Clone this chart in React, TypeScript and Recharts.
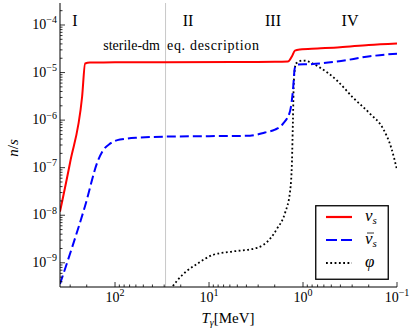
import React from "react";
import { LineChart, Line, XAxis, YAxis, ReferenceLine, Legend, Customized } from "recharts";

const FONT = "'Liberation Serif', 'DejaVu Serif', serif";
const txt = { fontFamily: FONT };

// T_gamma in MeV (left to right, i.e. decreasing), n/s values
const nuT = [385, 301, 224, 208, 185, 100, 30, 5, 2, 1.45, 1.31, 1.22, 1.08, 0.7, 0.404, 0.2, 0.1];
const nuN = [1.19e-8, 1.27e-7, 3.1e-6, 1.55e-5, 1.63e-5, 1.64e-5, 1.65e-5, 1.67e-5, 1.68e-5, 1.7e-5, 2.2e-5, 2.9e-5, 3.05e-5, 3.2e-5, 3.4e-5, 3.8e-5, 4.1e-5];

const nuBarT = [385, 287, 208, 152, 134, 113, 88.5, 54.2, 29.4, 10, 3.66, 2.54, 1.99, 1.63, 1.37, 1.28, 1.22, 1.13, 0.843, 0.435, 0.194, 0.1];
const nuBarN = [3.6e-10, 2.07e-9, 1.58e-8, 1.4e-7, 2.3e-7, 3.2e-7, 3.9e-7, 4.3e-7, 4.5e-7, 4.6e-7, 4.7e-7, 5.5e-7, 6.3e-7, 8.4e-7, 1.58e-6, 4.2e-6, 1.27e-5, 1.48e-5, 1.5e-5, 1.7e-5, 2.2e-5, 2.5e-5];

const phiT = [27.3, 21.9, 17.1, 13.4, 9.06, 5.98, 3.08, 2.24, 1.89, 1.55, 1.37, 1.31, 1.28, 1.25, 1.19, 1.0, 0.659, 0.435, 0.294, 0.194, 0.14, 0.115, 0.1];
const phiN = [2.3e-10, 4.2e-10, 6.8e-10, 9.5e-10, 1.47e-9, 1.7e-9, 2.07e-9, 3.2e-9, 5.2e-9, 1.13e-8, 3.3e-8, 1.4e-7, 9.8e-7, 6.8e-6, 1.55e-5, 1.79e-5, 1.27e-5, 6.8e-6, 2.98e-6, 1.37e-6, 6.5e-7, 2.6e-7, 9e-8];

const xDomain = [0.1, 385];
const yDomain = [3.1e-10, 2.9e-4];
const xDecades = [0.1, 1, 10, 100];
const yDecades = [1e-10, 1e-9, 1e-8, 1e-7, 1e-6, 1e-5, 1e-4];
const regionLabels = ["I", "II", "III", "IV"];
const splitT = 29;

const toRows = (ts: number[], ns: number[]) => ts.map((T, i) => ({ T, n: ns[i] }));
const nuData = toRows(nuT, nuN);
const nuBarData = toRows(nuBarT, nuBarN);
const phiData = toRows(phiT, phiN);

// log ticks: decades plus 2..9 minors, kept inside the domain
const logTicks = (decades: number[], [lo, hi]: number[]) => {
  const out: number[] = [];
  decades.forEach((d) => {
    for (let m = 1; m <= 9; m++) {
      const v = m * d;
      if (v >= lo * 0.999 && v <= hi) out.push(v);
    }
  });
  return out;
};
const xTicks = logTicks(xDecades, xDomain);
const yTicks = logTicks(yDecades, yDomain);

const isMajor = (v: number) => Math.abs(Math.log10(v) - Math.round(Math.log10(v))) < 1e-6;
const expLabel = (v: number) => {
  const e = Math.round(Math.log10(v));
  return e < 0 ? "\u2212" + Math.abs(e) : String(e);
};
const tickLen = (v: number) => (isMajor(v) ? 5 : 2.5);

function BottomTick({ x, y, payload }: any) {
  const v = payload.value;
  return (
    <g>
      <line x1={x} x2={x} y1={y} y2={y - tickLen(v)} stroke="#000" strokeWidth={0.8} />
      {isMajor(v) && (
        <text x={x} y={y + 15} textAnchor="middle" style={txt} fontSize={14} fill="#000">
          10<tspan dy={-6} fontSize={10}>{expLabel(v)}</tspan>
        </text>
      )}
    </g>
  );
}

function TopTick({ x, y, payload }: any) {
  return <line x1={x} x2={x} y1={y} y2={y + tickLen(payload.value)} stroke="#000" strokeWidth={0.8} />;
}

function LeftTick({ x, y, payload }: any) {
  const v = payload.value;
  return (
    <g>
      <line x1={x} x2={x + tickLen(v)} y1={y} y2={y} stroke="#000" strokeWidth={0.8} />
      {isMajor(v) && (
        <text x={x - 3} y={y + 4} textAnchor="end" style={txt} fontSize={14} fill="#000">
          10<tspan dy={-5.5} fontSize={10}>{expLabel(v)}</tspan>
        </text>
      )}
    </g>
  );
}

function RightTick({ x, y, payload }: any) {
  return <line x1={x} x2={x - tickLen(payload.value)} y1={y} y2={y} stroke="#000" strokeWidth={0.8} />;
}

function Annotations() {
  const regionX = [75, 188, 273, 350];
  return (
    <g style={txt} fill="#000">
      {regionLabels.map((r, i) => (
        <text key={r} x={regionX[i]} y={26} textAnchor="middle" fontSize={16} style={txt}>
          {r}
        </text>
      ))}
      <text x={160} y={50} textAnchor="end" fontSize={14} style={txt}>
        sterile-dm
      </text>
      <text x={167} y={50} fontSize={14} textLength={92} lengthAdjust="spacing" style={txt}>
        eq. description
      </text>
      <text x={228} y={323} textAnchor="middle" fontSize={15} style={txt}>
        <tspan fontStyle="italic">T</tspan>
        <tspan dy={3} fontSize={10} fontStyle="italic">γ</tspan>
        <tspan dy={-3}>[MeV]</tspan>
      </text>
      <text x={13} y={148} textAnchor="middle" fontSize={15} transform="rotate(-90 13 148)" dy={5} style={txt}>
        <tspan fontStyle="italic">n</tspan>/<tspan fontStyle="italic">s</tspan>
      </text>
    </g>
  );
}

function LegendBox() {
  const rows = [
    { color: "#ff0000", dash: undefined, width: 2.2, name: "ν", bar: false },
    { color: "#0000ff", dash: "11 4", width: 2.2, name: "ν", bar: true },
    { color: "#000", dash: "1.8 2.5", width: 1.8, name: "φ", bar: false },
  ];
  return (
    <svg width={74} height={75} style={{ display: "block" }}>
      <rect x={0.75} y={0.75} width={72.5} height={73.5} fill="#fff" stroke="#000" strokeWidth={1.3} />
      {rows.map((r, i) => {
        const cy = 12 + i * 23;
        return (
          <g key={i}>
            <line x1={11} x2={37} y1={cy} y2={cy} stroke={r.color} strokeWidth={r.width} strokeDasharray={r.dash} />
            {r.bar && <line x1={52} x2={59} y1={cy - 7} y2={cy - 7} stroke="#000" strokeWidth={0.8} />}
            <text x={50} y={cy + 4} style={txt} fontSize={17} fontStyle="italic" fill="#000">
              {r.name}
              {i < 2 && (
                <tspan dy={3} fontSize={11}>
                  s
                </tspan>
              )}
            </text>
          </g>
        );
      })}
    </svg>
  );
}

export default function App() {
  return (
    <div style={{ position: "absolute", left: 0, top: 0, width: 415, height: 332, background: "#fff" }}>
      <LineChart width={415} height={332} margin={{ top: 3, right: 18, bottom: 0, left: 0 }}>
        <XAxis
          xAxisId="b"
          orientation="bottom"
          type="number"
          dataKey="T"
          scale="log"
          domain={xDomain}
          reversed
          allowDataOverflow
          ticks={xTicks}
          interval={0}
          tick={BottomTick}
          tickLine={false}
          tickSize={0}
          tickMargin={0}
          height={45}
          axisLine={{ stroke: "#000", strokeWidth: 1 }}
        />
        <XAxis
          xAxisId="t"
          orientation="top"
          type="number"
          dataKey="T"
          scale="log"
          domain={xDomain}
          reversed
          allowDataOverflow
          ticks={xTicks}
          interval={0}
          tick={TopTick}
          tickLine={false}
          tickSize={0}
          tickMargin={0}
          height={0}
          axisLine={{ stroke: "#000", strokeWidth: 1 }}
        />
        <YAxis
          yAxisId="l"
          orientation="left"
          type="number"
          scale="log"
          domain={yDomain}
          allowDataOverflow
          ticks={yTicks}
          interval={0}
          tick={LeftTick}
          tickLine={false}
          tickSize={0}
          tickMargin={0}
          width={60}
          axisLine={{ stroke: "#000", strokeWidth: 1 }}
        />
        <YAxis
          yAxisId="r"
          orientation="right"
          type="number"
          scale="log"
          domain={yDomain}
          allowDataOverflow
          ticks={yTicks}
          interval={0}
          tick={RightTick}
          tickLine={false}
          tickSize={0}
          tickMargin={0}
          width={0}
          axisLine={{ stroke: "#000", strokeWidth: 1 }}
        />
        <ReferenceLine x={splitT} xAxisId="b" yAxisId="l" stroke="#c8c8c8" strokeWidth={1} />
        <Line
          data={phiData}
          dataKey="n"
          xAxisId="b"
          yAxisId="l"
          type="monotone"
          stroke="#000"
          strokeWidth={1.8}
          strokeDasharray="1.8 2.5"
          dot={false}
          isAnimationActive={false}
        />
        <Line
          data={nuBarData}
          dataKey="n"
          xAxisId="b"
          yAxisId="l"
          type="monotone"
          stroke="#0000ff"
          strokeWidth={2}
          strokeDasharray="9 4"
          dot={false}
          isAnimationActive={false}
        />
        <Line
          data={nuData}
          dataKey="n"
          xAxisId="b"
          yAxisId="l"
          type="monotone"
          stroke="#ff0000"
          strokeWidth={2}
          dot={false}
          isAnimationActive={false}
        />
        <Legend
          layout="horizontal"
          align="center"
          verticalAlign="middle"
          wrapperStyle={{ left: 315, top: 205, width: 74, height: 75 }}
          content={() => <LegendBox />}
        />
        <Customized component={Annotations} />
      </LineChart>
    </div>
  );
}
